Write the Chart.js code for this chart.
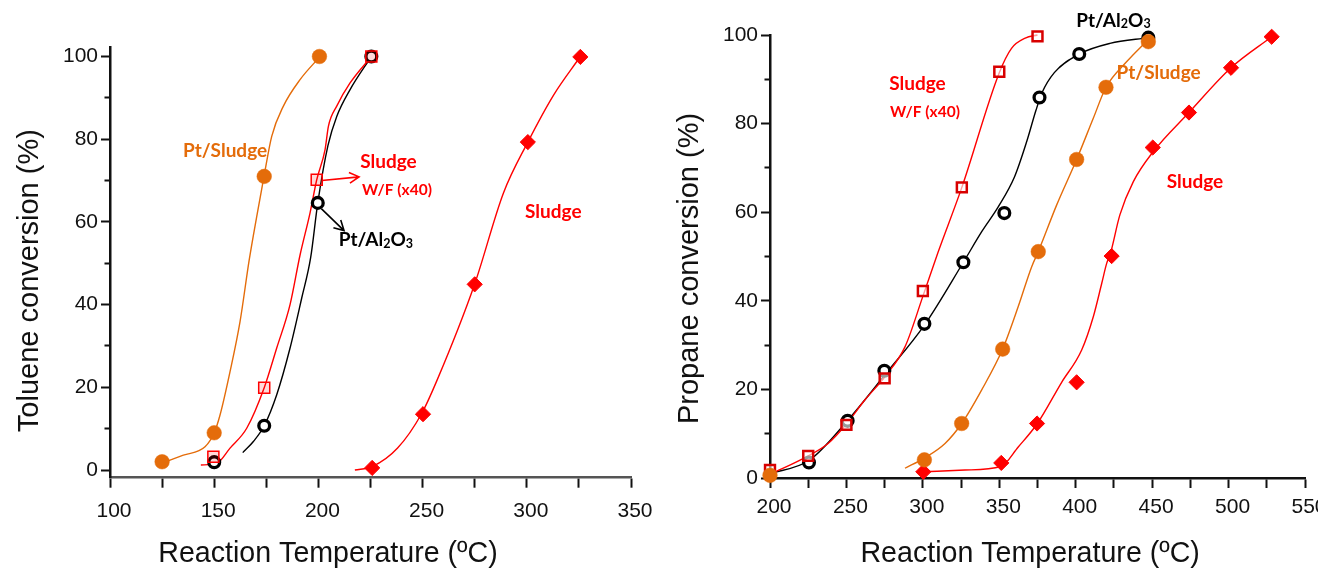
<!DOCTYPE html>
<html>
<head>
<meta charset="utf-8">
<script src="https://cdn.jsdelivr.net/npm/chart.js@4.4.1/dist/chart.umd.min.js"></script>
<style>
html, body { margin: 0; padding: 0; background: #fff; overflow: hidden; width: 1318px; height: 570px; }
#tolueneChart { position: absolute; left: 0; top: 0; }
#propaneChart { position: absolute; left: 660px; top: 0; }
</style>
</head>
<body>
<canvas id="tolueneChart" width="660" height="570"></canvas>
<canvas id="propaneChart" width="680" height="570"></canvas>
<script>
// Toluene panel - measured points
const tolPtSludgeT = [125, 150, 174, 200.5]
const tolPtSludgeY = [2, 9, 71, 100]
const tolWfT = [149.6, 174, 199.2, 225.4]
const tolWfY = [3.2, 19.9, 70.2, 100]
const tolAlT = [150, 174, 199.7, 225.4]
const tolAlY = [1.9, 10.7, 64.6, 100]
const tolSludgeT = [225.8, 250.2, 275, 300.5, 325.7]
const tolSludgeY = [0.5, 13.5, 44.9, 79.3, 99.9]

// Toluene panel - fitted curves
const tolPtSludgeFitT = [125.6, 135.2, 145.6, 150, 152.8, 157.6, 162.4, 166.8, 170.4, 173.9, 177.6, 183.2, 191.2, 200.8]
const tolPtSludgeFitY = [1.8, 3.6, 5.6, 9, 13.3, 23.8, 35.9, 50.8, 61.3, 71, 80.7, 88, 94.4, 100]
const tolWfFitT = [143.6, 151.2, 157.6, 165.6, 174, 180, 186.4, 191.2, 196, 199.2, 203.2, 204.8, 208.8, 215.2, 225.4]
const tolWfFitY = [1.2, 1.6, 5.3, 10.1, 19.9, 29.5, 40, 52, 62.2, 70.2, 77.5, 83.1, 88, 93.6, 100]
const tolAlFitT = [163.7, 168.8, 174, 180, 186.4, 192, 196.3, 199.7, 204.6, 208.8, 215.2, 225.4]
const tolAlFitY = [4.2, 6.9, 10.7, 18.2, 29.5, 41.6, 51.4, 64.6, 78.5, 85.5, 92, 100]
const tolSludgeFitT = [217.5, 225.8, 238, 249.5, 257, 275, 288.8, 300.5, 313, 325.7]
const tolSludgeFitY = [0, 0.8, 5.3, 13.6, 21.8, 45, 67, 79.3, 90.8, 100]

// Propane panel - measured points
const proWfT = [200, 225, 250, 275, 300, 325.5, 350, 375]
const proWfY = [1.8, 5, 12, 22.5, 42.2, 65.6, 91.7, 99.7]
const proAlT = [225.5, 250.8, 274.8, 301, 326.5, 353.3, 376.3, 402.3, 447.5]
const proAlY = [3.5, 12.9, 24.2, 34.8, 48.7, 59.8, 85.9, 95.7, 99.4]
const proPtSludgeT = [200, 301, 325.4, 352.2, 375.5, 400.6, 419.8, 447.5]
const proPtSludgeY = [0.6, 4.1, 12.3, 29.1, 51.1, 71.9, 88.2, 98.5]
const proSludgeT = [300.3, 351.3, 374.7, 400.6, 423.5, 450.4, 474.1, 501.6, 528.2]
const proSludgeY = [1.4, 3.4, 12.3, 21.6, 50.1, 74.6, 82.5, 92.6, 99.6]

// Propane panel - fitted curves
const proWfFitT = [200, 225, 238, 250, 262, 275, 288.3, 300, 310, 325.5, 350, 358, 367, 375]
const proWfFitY = [0.8, 5, 7.8, 12.2, 17.6, 22.8, 29.6, 41, 51, 65.6, 91.5, 97, 99.3, 100]
const proAlFitT = [199, 225.7, 250.8, 275.2, 301, 326.5, 338.5, 349.3, 360, 368, 374, 378, 386, 402.3, 422.4, 447.5]
const proAlFitY = [0.9, 4, 13, 23.3, 34.5, 48.7, 55.6, 61.2, 68, 76, 83, 87, 91.5, 95.7, 98.1, 99.4]
const proPtSludgeFitT = [288.3, 301, 314.5, 325.4, 338.5, 352.2, 362.4, 371.2, 375.5, 387.5, 400.6, 411.5, 419.8, 433.4, 447.5]
const proPtSludgeFitY = [2.2, 4.5, 7.8, 12.3, 19.9, 29.1, 38.7, 47.7, 51.1, 61.6, 71.9, 81.2, 88.2, 94, 99]
const proSludgeFitT = [300.3, 327.6, 351.1, 362.4, 374.9, 390.8, 403.9, 411.5, 417, 420.3, 422.4, 428.9, 437.7, 450.8, 474.1, 501.6, 528.2]
const proSludgeFitY = [1.4, 1.8, 2.6, 7, 12.3, 21.6, 28.9, 36.4, 43.9, 48.5, 50.3, 59.4, 66.9, 73.7, 82.5, 92.6, 99.6]

// y tick positions, labelled every 20
const yTickValues = [0, 10, 20, 30, 40, 50, 60, 70, 80, 90, 100]

const orange = 'rgb(228, 108, 10)'
const red = 'rgb(255, 0, 0)'
const black = '#000'
const axisFont = "'Liberation Sans', Arial, sans-serif"
const noteFont = "Lato, 'Open Sans', sans-serif"

function pts(xs, ys) {
    return xs.map((x, i) => ({x: x, y: ys[i]}))
}

function fitLine(xs, ys, color) {
    return {
        data: pts(xs, ys),
        borderColor: color,
        borderWidth: 1.4,
        pointRadius: 0,
        showLine: true,
        fill: false,
        cubicInterpolationMode: 'monotone',
        clip: false,
        order: 5
    }
}

function markers(xs, ys, style) {
    return Object.assign({data: pts(xs, ys), showLine: false, clip: false, order: 1}, style)
}

const orangeDot = {pointStyle: 'circle', pointRadius: 7.3, pointBackgroundColor: orange, pointBorderColor: orange, pointBorderWidth: 0.5}
const blackRing = {pointStyle: 'circle', pointRadius: 5.4, pointBackgroundColor: '#fff', pointBorderColor: black, pointBorderWidth: 3.3}
const redDiamond = {pointStyle: 'rectRot', pointRadius: 7.6, pointBackgroundColor: red, pointBorderColor: red, pointBorderWidth: 1}

// labels, arrows and axis titles drawn on top of the plot
function notesPlugin(notes) {
    return {
        id: 'notes',
        afterDatasetsDraw(chart) {
            const ctx = chart.ctx
            const xs = chart.scales.x
            const ys = chart.scales.y
            ctx.save()
            notes.texts.forEach(n => {
                const subSize = n.size * 0.66
                let width = 0
                n.parts.forEach(p => {
                    ctx.font = 'bold ' + (p.sub ? subSize : n.size) + 'px ' + noteFont
                    width += ctx.measureText(p.t).width
                })
                let px = xs.getPixelForValue(n.x) - width / 2
                const base = ys.getPixelForValue(n.y) + n.size * 0.36
                ctx.fillStyle = n.color
                ctx.textAlign = 'left'
                ctx.textBaseline = 'alphabetic'
                n.parts.forEach(p => {
                    ctx.font = 'bold ' + (p.sub ? subSize : n.size) + 'px ' + noteFont
                    ctx.fillText(p.t, px, base + (p.sub ? 1.5 : 0))
                    px += ctx.measureText(p.t).width
                })
            })
            notes.arrows.forEach(a => {
                const x1 = xs.getPixelForValue(a.from[0]), y1 = ys.getPixelForValue(a.from[1])
                const x2 = xs.getPixelForValue(a.to[0]), y2 = ys.getPixelForValue(a.to[1])
                const ang = Math.atan2(y2 - y1, x2 - x1)
                ctx.strokeStyle = a.color
                ctx.lineWidth = 1.6
                ctx.beginPath()
                ctx.moveTo(x1, y1)
                ctx.lineTo(x2, y2)
                ctx.moveTo(x2 - 11 * Math.cos(ang - 0.5), y2 - 11 * Math.sin(ang - 0.5))
                ctx.lineTo(x2, y2)
                ctx.lineTo(x2 - 11 * Math.cos(ang + 0.5), y2 - 11 * Math.sin(ang + 0.5))
                ctx.stroke()
            })
            // axis titles
            ctx.fillStyle = '#111'
            ctx.textBaseline = 'alphabetic'
            ctx.textAlign = 'center'
            ctx.font = '28.6px ' + axisFont
            ctx.fillText(notes.xTitle.text, xs.getPixelForValue(notes.xTitle.x), 562)
            ctx.translate(37.5, ys.getPixelForValue(notes.yTitle.y))
            ctx.rotate(-Math.PI / 2)
            ctx.font = '29px ' + axisFont
            ctx.fillText(notes.yTitle.text, 0, 0)
            ctx.restore()
        }
    }
}

function axisOptions(xMin, xMax, yMin, yMax, xHeight, xPad, xBorder) {
    return {
        x: {
            type: 'linear',
            min: xMin,
            max: xMax,
            border: {color: xBorder, width: 2.5},
            grid: {drawOnChartArea: false, drawTicks: true, tickLength: 10, tickWidth: 2, tickColor: '#111'},
            ticks: {
                stepSize: 25,
                autoSkip: false,
                maxRotation: 0,
                padding: xPad,
                labelOffset: 4,
                color: '#111',
                font: {family: axisFont, size: 21},
                callback: v => v % 50 === 0 ? v : ''
            },
            afterFit: s => { s.height = xHeight }
        },
        y: {
            type: 'linear',
            min: yMin,
            max: yMax,
            border: {color: '#111', width: 2.5},
            grid: {
                drawOnChartArea: false,
                drawTicks: true,
                tickLength: 9,
                tickWidth: 2,
                tickColor: '#111',
                tickBorderDash: c => (c.tick && c.tick.value % 20 !== 0) ? [0, 3.5, 4.5, 100] : []
            },
            afterBuildTicks: s => { s.ticks = yTickValues.map(v => ({value: v})) },
            ticks: {
                autoSkip: false,
                padding: 3,
                color: '#111',
                font: {family: axisFont, size: 21},
                callback: v => v % 20 === 0 ? v : ''
            },
            afterFit: s => { s.width = 110 }
        }
    }
}

function baseOptions(scales, padding) {
    return {
        responsive: false,
        animation: false,
        devicePixelRatio: 1,
        events: [],
        layout: {padding: padding},
        plugins: {legend: {display: false}, tooltip: {enabled: false}},
        scales: scales
    }
}

const tolueneNotes = {
    texts: [
        {parts: [{t: 'Pt/Sludge'}], x: 155.2, y: 77.3, color: orange, size: 19},
        {parts: [{t: 'Sludge'}], x: 233.6, y: 74.8, color: red, size: 19},
        {parts: [{t: 'W/F (x40)'}], x: 237.7, y: 67.8, color: red, size: 15.5},
        {parts: [{t: 'Pt/Al'}, {t: '2', sub: true}, {t: 'O'}, {t: '3', sub: true}], x: 227.6, y: 55.8, color: black, size: 19},
        {parts: [{t: 'Sludge'}], x: 312.7, y: 62.5, color: red, size: 19}
    ],
    arrows: [
        {from: [201.7, 70], to: [219.5, 70.9], color: red},
        {from: [201.4, 63.2], to: [212.3, 57.9], color: black}
    ],
    xTitle: {text: 'Reaction Temperature (ºC)', x: 204.6},
    yTitle: {text: 'Toluene conversion (%)', y: 45.8}
}

const propaneNotes = {
    texts: [
        {parts: [{t: 'Pt/Al'}, {t: '2', sub: true}, {t: 'O'}, {t: '3', sub: true}], x: 424.7, y: 103.4, color: black, size: 19},
        {parts: [{t: 'Sludge'}], x: 296.5, y: 89.2, color: red, size: 19},
        {parts: [{t: 'W/F (x40)'}], x: 301.4, y: 82.7, color: red, size: 15.5},
        {parts: [{t: 'Pt/Sludge'}], x: 454.2, y: 91.6, color: orange, size: 19},
        {parts: [{t: 'Sludge'}], x: 478, y: 67.1, color: red, size: 19}
    ],
    arrows: [],
    xTitle: {text: 'Reaction Temperature (ºC)', x: 370.2},
    yTitle: {text: 'Propane conversion (%)', y: 47.3}
}

const tolueneChart = new Chart(document.getElementById('tolueneChart'), {
    type: 'line',
    data: {
        datasets: [
            fitLine(tolPtSludgeFitT, tolPtSludgeFitY, orange),
            fitLine(tolWfFitT, tolWfFitY, red),
            fitLine(tolAlFitT, tolAlFitY, black),
            fitLine(tolSludgeFitT, tolSludgeFitY, red),
            markers(tolPtSludgeT, tolPtSludgeY, orangeDot),
            markers(tolWfT, tolWfY, {pointStyle: 'rect', pointRadius: 7.8, pointBackgroundColor: 'rgba(255,0,0,0.15)', pointBorderColor: red, pointBorderWidth: 1.5}),
            markers(tolAlT, tolAlY, blackRing),
            markers(tolSludgeT, tolSludgeY, redDiamond)
        ]
    },
    options: baseOptions(axisOptions(100, 350, -1.86, 102.2, 92.3, 11, '#555'), {left: 0, top: 47.4, right: 29, bottom: 0}),
    plugins: [notesPlugin(tolueneNotes)]
})

const propaneChart = new Chart(document.getElementById('propaneChart'), {
    type: 'line',
    data: {
        datasets: [
            fitLine(proWfFitT, proWfFitY, red),
            fitLine(proAlFitT, proAlFitY, black),
            fitLine(proPtSludgeFitT, proPtSludgeFitY, orange),
            fitLine(proSludgeFitT, proSludgeFitY, red),
            markers(proPtSludgeT, proPtSludgeY, orangeDot),
            markers(proWfT, proWfY, {pointStyle: 'rect', pointRadius: 7, pointBackgroundColor: 'rgba(255,255,255,0.6)', pointBorderColor: '#d80000', pointBorderWidth: 2.5}),
            markers(proAlT, proAlY, blackRing),
            markers(proSludgeT, proSludgeY, redDiamond)
        ]
    },
    options: baseOptions(axisOptions(200, 550, 0, 100, 92, 6.5, '#111'), {left: 0, top: 35, right: 35, bottom: 0}),
    plugins: [notesPlugin(propaneNotes)]
})
</script>
</body>
</html>
